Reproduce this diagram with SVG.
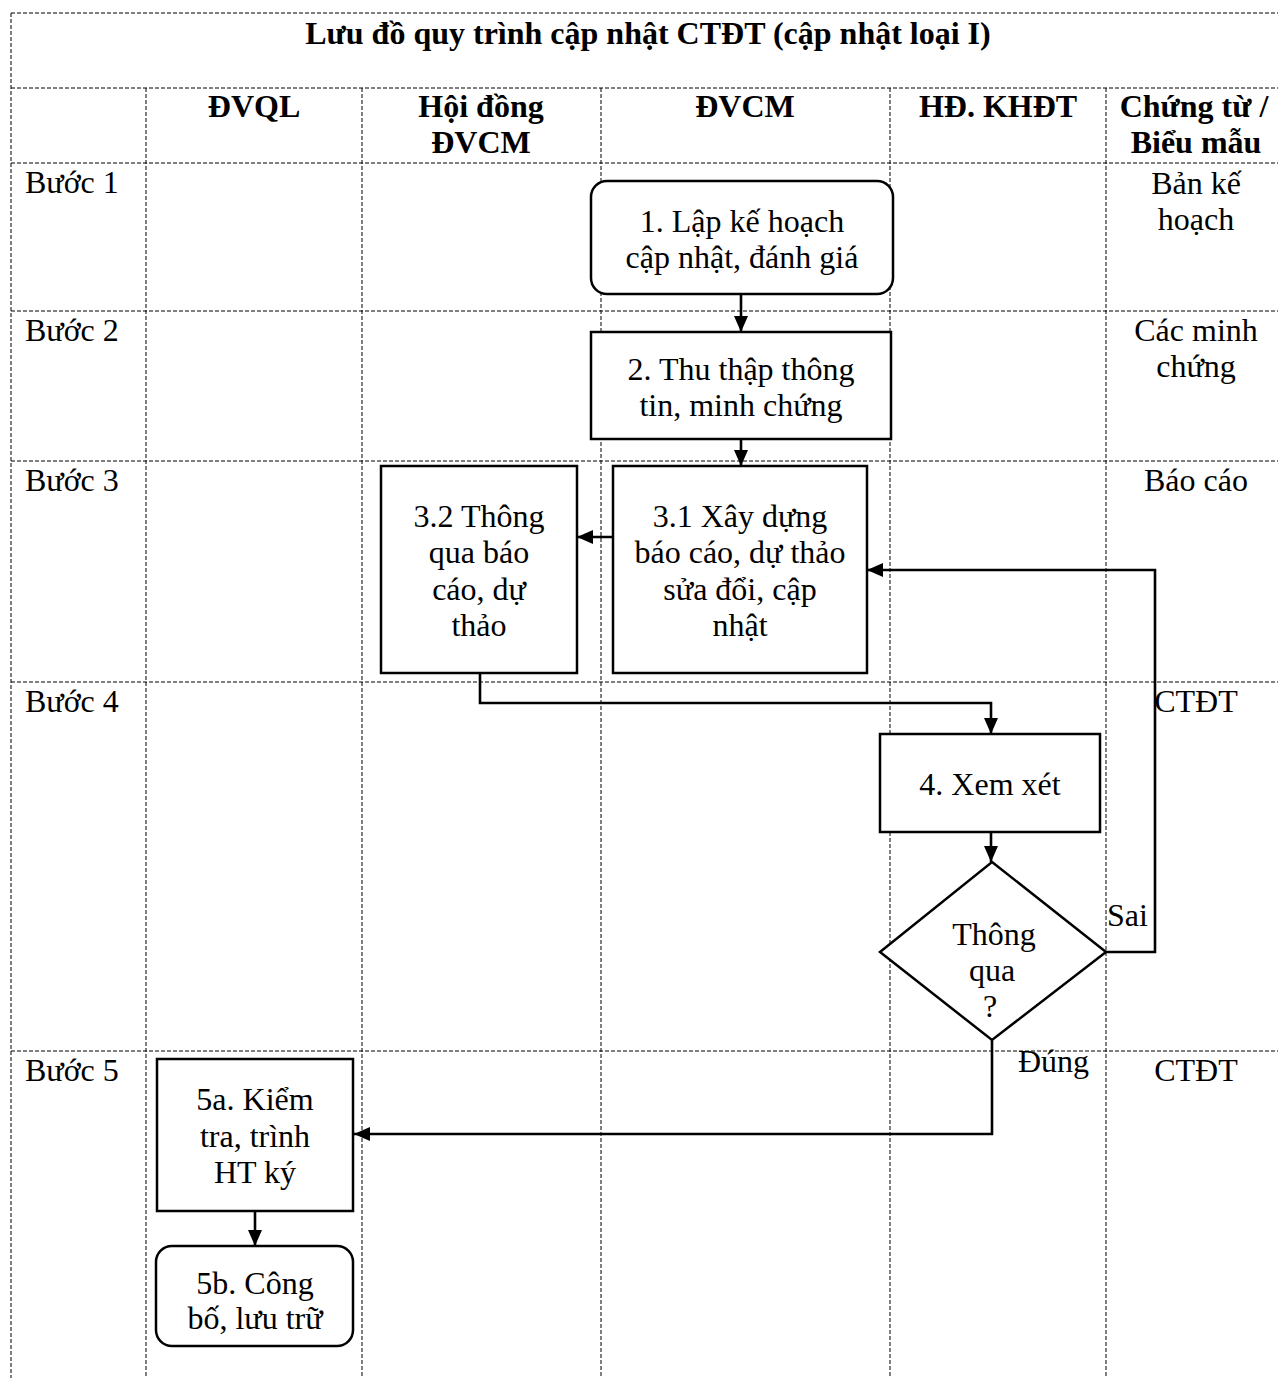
<svg xmlns="http://www.w3.org/2000/svg" width="1278" height="1378" viewBox="0 0 1278 1378">
<style>
.grid{stroke:#000;stroke-width:1;stroke-dasharray:4 2;fill:none}
.box{fill:#fff;stroke:#000;stroke-width:2.5}
.con{fill:none;stroke:#000;stroke-width:2.6}
text{font-family:"Liberation Serif","Times New Roman",serif;font-size:32px;fill:#000}
.c{text-anchor:middle}
.b{font-weight:bold}
</style>
<defs>
<marker id="ah" viewBox="0 0 16 14" refX="16" refY="7" markerWidth="16" markerHeight="14" markerUnits="userSpaceOnUse" orient="auto">
<path d="M0,0 L16,7 L0,14 z" fill="#000"/>
</marker>
</defs>
<rect width="1278" height="1378" fill="#fff"/>
<g id="grid">
<line class="grid" x1="11" y1="13" x2="1278" y2="13"/>
<line class="grid" x1="11" y1="13" x2="11" y2="1378"/>
<line class="grid" x1="11" y1="88" x2="1278" y2="88"/>
<line class="grid" x1="11" y1="163" x2="1278" y2="163"/>
<line class="grid" x1="11" y1="311" x2="1278" y2="311"/>
<line class="grid" x1="11" y1="461" x2="1278" y2="461"/>
<line class="grid" x1="11" y1="682" x2="1278" y2="682"/>
<line class="grid" x1="11" y1="1051" x2="1278" y2="1051"/>
<line class="grid" x1="146" y1="88" x2="146" y2="1378"/>
<line class="grid" x1="362" y1="88" x2="362" y2="1378"/>
<line class="grid" x1="601" y1="88" x2="601" y2="1378"/>
<line class="grid" x1="890" y1="88" x2="890" y2="1378"/>
<line class="grid" x1="1106" y1="88" x2="1106" y2="1378"/>
</g>
<g id="headers">
<text class="c b" x="648" y="44">Lưu đồ quy trình cập nhật CTĐT (cập nhật loại I)</text>
<text class="c b" x="254" y="117">ĐVQL</text>
<text class="c b" x="481" y="117">Hội đồng</text>
<text class="c b" x="481" y="153">ĐVCM</text>
<text class="c b" x="745" y="117">ĐVCM</text>
<text class="c b" x="998" y="117">HĐ. KHĐT</text>
<text class="c b" x="1194" y="117">Chứng từ /</text>
<text class="c b" x="1196" y="153">Biểu mẫu</text>
<text x="25" y="193">Bước 1</text>
<text x="25" y="341">Bước 2</text>
<text x="25" y="491">Bước 3</text>
<text x="25" y="712">Bước 4</text>
<text x="25" y="1081">Bước 5</text>
<text class="c" x="1196" y="194">Bản kế</text>
<text class="c" x="1196" y="230">hoạch</text>
<text class="c" x="1196" y="341">Các minh</text>
<text class="c" x="1196" y="377">chứng</text>
<text class="c" x="1196" y="491">Báo cáo</text>
<text class="c" x="1196" y="712">CTĐT</text>
<text class="c" x="1196" y="1081">CTĐT</text>
</g>
<g id="connectors">
<line class="con" x1="741" y1="294" x2="741" y2="332" marker-end="url(#ah)"/>
<line class="con" x1="741" y1="440" x2="741" y2="466" marker-end="url(#ah)"/>
<line class="con" x1="613" y1="537" x2="577" y2="537" marker-end="url(#ah)"/>
<polyline class="con" points="480,673 480,703 991,703 991,734" marker-end="url(#ah)"/>
<line class="con" x1="991" y1="832" x2="991" y2="862" marker-end="url(#ah)"/>
<polyline class="con" points="1106,952 1155,952 1155,570 867,570" marker-end="url(#ah)"/>
<polyline class="con" points="992,1040 992,1134 354,1134" marker-end="url(#ah)"/>
<line class="con" x1="255" y1="1211" x2="255" y2="1246" marker-end="url(#ah)"/>
<text x="1107" y="926">Sai</text>
<text x="1018" y="1072">Đúng</text>
</g>
<g id="n1">
<rect class="box" x="591" y="181" width="302" height="113" rx="16"/>
<text class="c" x="742" y="232">1. Lập kế hoạch</text>
<text class="c" x="742" y="268">cập nhật, đánh giá</text>
</g>
<g id="n2">
<rect class="box" x="591" y="332" width="300" height="107"/>
<text class="c" x="741" y="380">2. Thu thập thông</text>
<text class="c" x="741" y="416">tin, minh chứng</text>
</g>
<g id="n31">
<rect class="box" x="613" y="466" width="254" height="207"/>
<text class="c" x="740" y="527">3.1 Xây dựng</text>
<text class="c" x="740" y="563">báo cáo, dự thảo</text>
<text class="c" x="740" y="600">sửa đổi, cập</text>
<text class="c" x="740" y="636">nhật</text>
</g>
<g id="n32">
<rect class="box" x="381" y="466" width="196" height="207"/>
<text class="c" x="479" y="527">3.2 Thông</text>
<text class="c" x="479" y="563">qua báo</text>
<text class="c" x="479" y="600">cáo, dự</text>
<text class="c" x="479" y="636">thảo</text>
</g>
<g id="n4">
<rect class="box" x="880" y="734" width="220" height="98"/>
<text class="c" x="990" y="795">4. Xem xét</text>
</g>
<g id="d">
<polygon class="box" points="992,862 1106,952 992,1040 880,952"/>
<text class="c" x="994" y="945">Thông</text>
<text class="c" x="992" y="981">qua</text>
<text class="c" x="990" y="1017">?</text>
</g>
<g id="n5a">
<rect class="box" x="157" y="1059" width="196" height="152"/>
<text class="c" x="255" y="1110">5a. Kiểm</text>
<text class="c" x="255" y="1147">tra, trình</text>
<text class="c" x="255" y="1183">HT ký</text>
</g>
<g id="n5b">
<rect class="box" x="156" y="1246" width="197" height="100" rx="16"/>
<text class="c" x="255" y="1294">5b. Công</text>
<text class="c" x="255" y="1329">bố, lưu trữ</text>
</g>
</svg>
